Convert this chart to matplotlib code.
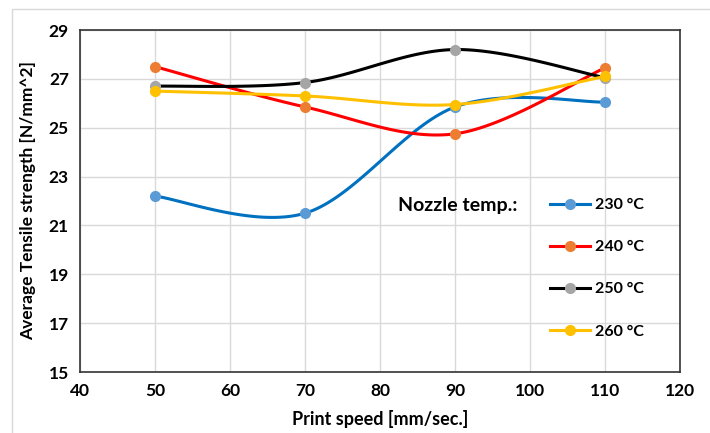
import numpy as np
import matplotlib
matplotlib.use('Agg')
import matplotlib.pyplot as plt
from matplotlib.lines import Line2D
from matplotlib.patches import Rectangle

plt.rcParams['font.family'] = ['Lato', 'DejaVu Sans']
plt.rcParams['font.weight'] = 'bold'

speeds = [50, 70, 90, 110]
temps = ['230 °C', '240 °C', '250 °C', '260 °C']
t230 = [22.2, 21.5, 25.85, 26.05]
t240 = [27.5, 25.85, 24.75, 27.45]
t250 = [26.7, 26.85, 28.2, 27.05]
t260 = [26.5, 26.3, 25.95, 27.1]
series = [t230, t240, t250, t260]

line_colors = ['#0070C0', '#FF0000', '#000000', '#FFC000']
marker_colors = ['#5B9BD5', '#ED7D31', '#A5A5A5', '#FFC000']


def smooth(x, y, n=40):
    # excel-like smoothed line (catmull-rom bezier)
    x = np.asarray(x, float)
    y = np.asarray(y, float)
    px = np.concatenate([[x[0]], x, [x[-1]]])
    py = np.concatenate([[y[0]], y, [y[-1]]])
    xs, ys = [], []
    t = np.linspace(0, 1, n)
    for i in range(1, len(px) - 2):
        p0 = np.array([px[i], py[i]])
        p3 = np.array([px[i + 1], py[i + 1]])
        p1 = p0 + (np.array([px[i + 1], py[i + 1]]) - np.array([px[i - 1], py[i - 1]])) / 6
        p2 = p3 - (np.array([px[i + 2], py[i + 2]]) - np.array([px[i], py[i]])) / 6
        b = ((1 - t) ** 3)[:, None] * p0 + (3 * (1 - t) ** 2 * t)[:, None] * p1 \
            + (3 * (1 - t) * t ** 2)[:, None] * p2 + (t ** 3)[:, None] * p3
        xs.extend(b[:, 0])
        ys.extend(b[:, 1])
    return xs, ys


fig = plt.figure(figsize=(7.1, 4.33), dpi=100)
ax = fig.add_axes([80 / 710, 1 - 372 / 433, 600 / 710, 342 / 433])

# chart area border
fig.patches.append(Rectangle((12 / 710, -0.1), 1.2, 1.1 - 9 / 433, transform=fig.transFigure,
                             fill=False, edgecolor='#D9D9D9', lw=1))

handles = []
for vals, lc, mc, lab in zip(series, line_colors, marker_colors, temps):
    sx, sy = smooth(speeds, vals)
    ax.plot(sx, sy, color=lc, lw=2.2, solid_capstyle='round', zorder=3)
    ax.plot(speeds, vals, 'o', color=mc, ms=7, zorder=4)
    handles.append(Line2D([0], [0], color=lc, lw=2.2, marker='o', ms=7,
                          markerfacecolor=mc, markeredgecolor=mc, label=lab))

ax.set_xlim(40, 120)
ax.set_ylim(15, 29)
ax.set_xticks(range(40, 121, 10))
ax.set_yticks(range(15, 30, 2))
ax.grid(True, color='#D9D9D9', lw=1)
ax.set_axisbelow(True)
ax.tick_params(length=0, labelsize=12.5, pad=8, colors='#000000')
for lbl in ax.get_xticklabels() + ax.get_yticklabels():
    lbl.set_fontweight('bold')
for s in ax.spines.values():
    s.set_color('#333333')
    s.set_linewidth(1.2)

ax.set_xlabel('Print speed [mm/sec.]', fontsize=13, fontweight='bold', labelpad=8)
ax.set_ylabel('Average Tensile strength [N/mm^2]', fontsize=12.5, fontweight='bold', labelpad=9)

leg = fig.legend(handles=handles, loc='upper left', bbox_to_anchor=(550 / 710, 1 - 198 / 433),
                 frameon=False, prop={'weight': 'bold', 'size': 11.5},
                 handlelength=2.5, handletextpad=0.3, labelspacing=1.75,
                 borderpad=0, borderaxespad=0)

fig.text(398 / 710, 1 - 205 / 433, 'Nozzle temp.:', fontsize=14, fontweight='bold',
         va='center', ha='left')

fig.savefig('out.png', dpi=100)
